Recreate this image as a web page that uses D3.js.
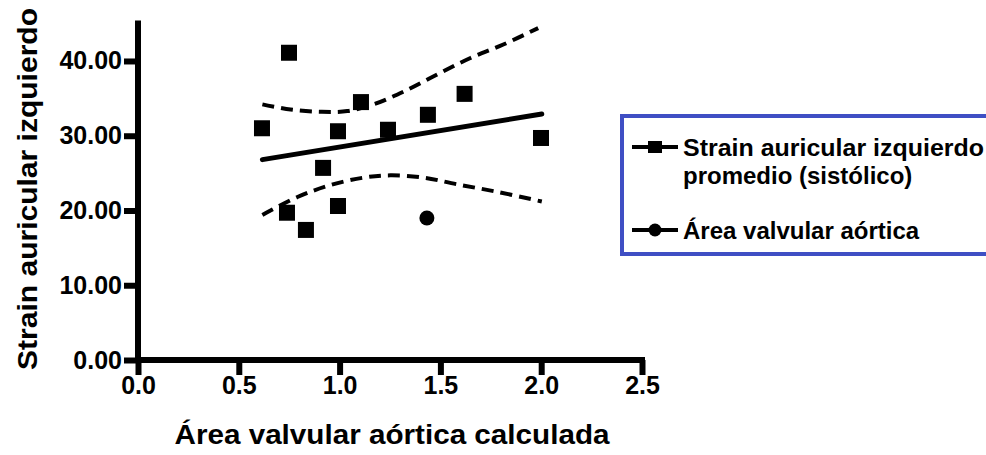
<!DOCTYPE html>
<html lang="en">
  <head>
    <meta charset="utf-8">
    <title>Strain auricular</title>
    <style>
      body { margin: 0; background: #fff; }
      svg { display: block; font-family: "Liberation Sans", Arial, sans-serif; font-weight: bold; }
    </style>
    <script src="https://d3js.org/d3.v7.min.js"></script>
  </head>
  <body>
    <script>
      // data
      const strainX = [0.615, 0.749, 0.739, 0.833, 0.918, 0.992, 0.992, 1.106, 1.24, 1.438, 1.62, 1.999];
      const strainY = [31.0, 41.1, 19.7, 17.4, 25.7, 30.6, 20.6, 34.5, 30.8, 32.8, 35.6, 29.7];
      const areaX = [1.433];
      const areaY = [19.0];

      // regression line end points and 95% band
      const fitX = [0.617, 2.003];
      const fitY = [26.8, 32.9];
      const upperX = [0.617, 0.757, 0.906, 1.038, 1.168, 1.317, 1.484, 1.649, 1.812, 1.985];
      const upperY = [34.2, 33.5, 33.2, 33.3, 34.2, 35.9, 38.2, 40.4, 42.2, 44.4];
      const lowerX = [0.617, 0.791, 0.955, 1.12, 1.252, 1.417, 1.583, 1.781, 2.003];
      const lowerY = [19.4, 21.8, 23.4, 24.4, 24.7, 24.4, 23.5, 22.5, 21.2];

      const xTicks = [0, 0.5, 1.0, 1.5, 2.0, 2.5];
      const yTicks = [0, 10, 20, 30, 40];
      const legendLabels = [["Strain auricular izquierdo", "promedio (sistólico)"], ["Área valvular aórtica"]];

      const width = 986, height = 455;
      const svg = d3.select('body').append('svg').attr('width', width).attr('height', height);

      const x = d3.scaleLinear().domain([0, 2.5]).range([138, 642]);
      const y = d3.scaleLinear().domain([0, 45]).range([360, 23.6]);

      // axes
      const xAxis = svg.append('g').attr('transform', 'translate(0,' + y(0) + ')')
        .call(d3.axisBottom(x).tickValues(xTicks).tickFormat(d3.format('.1f')).tickSize(15).tickPadding(1));
      const yAxis = svg.append('g').attr('transform', 'translate(' + x(0) + ',0)')
        .call(d3.axisLeft(y).tickValues(yTicks).tickFormat(d3.format('.2f')).tickSize(14).tickPadding(2));

      [xAxis, yAxis].forEach(a => {
        a.select('.domain').attr('stroke', '#000').attr('stroke-width', 6).attr('stroke-linecap', 'square');
        a.selectAll('.tick line').attr('stroke', '#000').attr('stroke-width', 6);
        a.selectAll('.tick text').attr('fill', '#000').style('font-size', '25px').style('font-weight', 'bold');
      });
      xAxis.select('.domain').attr('d', 'M' + x(0) + ',0H' + x(2.5));
      yAxis.select('.domain').attr('d', 'M0,' + y(45) + 'V' + y(0));

      // axis titles (the originals are a bit wider than the font)
      svg.append('text')
        .attr('x', 392).attr('y', 444)
        .attr('text-anchor', 'middle').style('font-size', '27px')
        .attr('textLength', 435).attr('lengthAdjust', 'spacingAndGlyphs')
        .text('Área valvular aórtica calculada');

      svg.append('text')
        .attr('transform', 'translate(37,189) rotate(-90)')
        .attr('text-anchor', 'middle').style('font-size', '28px')
        .attr('textLength', 362).attr('lengthAdjust', 'spacingAndGlyphs')
        .text('Strain auricular izquierdo');

      // fit and band
      const line = d3.line().x(d => x(d[0])).y(d => y(d[1]));
      const smooth = d3.line().x(d => x(d[0])).y(d => y(d[1])).curve(d3.curveCatmullRom);

      svg.append('path').datum(fitX.map((v, i) => [v, fitY[i]]))
        .attr('d', line).attr('fill', 'none').attr('stroke', '#000')
        .attr('stroke-width', 5).attr('stroke-linecap', 'round');

      [[upperX, upperY], [lowerX, lowerY]].forEach(([bx, by]) => {
        svg.append('path').datum(bx.map((v, i) => [v, by[i]]))
          .attr('d', smooth).attr('fill', 'none').attr('stroke', '#000')
          .attr('stroke-width', 4).attr('stroke-dasharray', '12,7');
      });

      // points
      const sq = 16;
      svg.append('g').selectAll('rect').data(strainX.map((v, i) => [v, strainY[i]]))
        .join('rect')
        .attr('x', d => x(d[0]) - sq / 2).attr('y', d => y(d[1]) - sq / 2)
        .attr('width', sq).attr('height', sq).attr('fill', '#000');

      svg.append('g').selectAll('circle').data(areaX.map((v, i) => [v, areaY[i]]))
        .join('circle')
        .attr('cx', d => x(d[0])).attr('cy', d => y(d[1])).attr('r', 7.5).attr('fill', '#000');

      // legend
      const lg = svg.append('g');
      lg.append('rect').attr('x', 622).attr('y', 116).attr('width', 400).attr('height', 138)
        .attr('fill', 'none').attr('stroke', '#3f4fc4').attr('stroke-width', 4);

      const rows = [147, 230];
      rows.forEach((ry, i) => {
        lg.append('line').attr('x1', 632).attr('x2', 678).attr('y1', ry).attr('y2', ry)
          .attr('stroke', '#000').attr('stroke-width', 4);
        if (i === 0) {
          lg.append('rect').attr('x', 648).attr('y', ry - 6).attr('width', 14).attr('height', 12).attr('fill', '#000');
        } else {
          lg.append('circle').attr('cx', 655).attr('cy', ry).attr('r', 6.5).attr('fill', '#000');
        }
        legendLabels[i].forEach((t, j) => {
          const txt = lg.append('text').attr('x', 683).attr('y', ry + 9 + j * 28)
            .style('font-size', '24px').text(t);
          if (i === 0 && j === 0) txt.attr('textLength', 301).attr('lengthAdjust', 'spacingAndGlyphs');
        });
      });
    </script>
  </body>
</html>
